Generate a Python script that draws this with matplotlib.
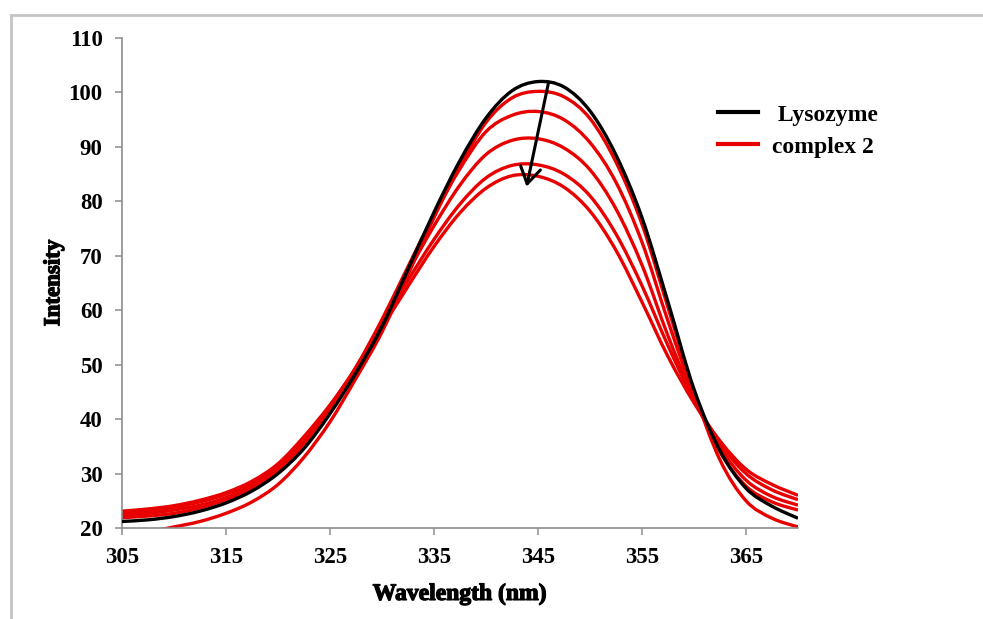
import matplotlib
matplotlib.use("Agg")
import matplotlib.pyplot as plt
from matplotlib.lines import Line2D
from matplotlib.path import Path
from matplotlib.patches import PathPatch
import matplotlib.patheffects as pe
import numpy as np

plt.rcParams['font.family'] = ['Liberation Serif', 'DejaVu Serif']

# emission spectra, sampled every 2.5 nm
wavelength = [305, 307.5, 310, 312.5, 315, 317.5, 320, 322.5, 325, 327.5,
              330, 332.5, 335, 337.5, 340, 342.5, 345, 347.5, 350, 352.5,
              355, 357.5, 360, 362.5, 365, 367.5, 370]

lysozyme = [21.2, 21.5, 22.1, 23.1, 24.6, 26.8, 30.0, 34.6, 41.0, 48.5,
            57.0, 67.5, 78.0, 87.5, 95.3, 100.3, 102.0, 101.0, 96.6, 88.5,
            77.0, 61.5, 45.5, 34.2, 27.3, 24.0, 21.8]

complex2_1 = [18.5, 19.3, 20.2, 21.2, 22.7, 24.8, 28.0, 33.0, 39.5, 47.5,
              56.0, 66.5, 77.0, 86.5, 94.5, 99.0, 100.2, 99.2, 95.2, 87.2,
              75.8, 60.5, 45.0, 32.5, 25.0, 21.8, 20.2]
complex2_2 = [21.9, 22.2, 22.7, 23.7, 25.2, 27.3, 30.6, 35.5, 42.0, 49.5,
              58.3, 68.0, 77.5, 86.0, 92.8, 95.8, 96.5, 95.0, 90.8, 83.5,
              72.5, 58.0, 44.5, 34.0, 27.7, 24.8, 23.3]
complex2_3 = [22.4, 22.7, 23.3, 24.2, 25.6, 27.8, 31.0, 36.0, 42.3, 49.5,
              58.0, 67.0, 75.5, 83.0, 88.6, 91.2, 91.5, 89.8, 85.8, 78.6,
              68.3, 55.3, 43.8, 34.8, 28.8, 25.8, 24.2]
complex2_4 = [22.8, 23.2, 23.8, 24.8, 26.2, 28.3, 31.5, 36.5, 42.5, 49.5,
              57.5, 65.5, 73.0, 79.5, 84.3, 86.6, 86.7, 85.0, 81.0, 74.0,
              64.5, 53.5, 43.5, 35.5, 30.0, 27.0, 25.2]
complex2_5 = [23.1, 23.5, 24.1, 25.1, 26.5, 28.6, 31.8, 36.8, 42.6, 49.3,
              56.8, 64.4, 71.7, 77.9, 82.4, 84.7, 84.6, 82.6, 78.2, 71.0,
              61.5, 51.5, 43.0, 36.0, 30.8, 28.0, 26.0]
complex2 = [complex2_1, complex2_2, complex2_3, complex2_4, complex2_5]

# arrow showing the quenching direction
arrow_start = (346.0, 101.7)
arrow_end = (343.9, 82.7)

red = '#e80000'
gray = '#8c8c8c'


def smooth_line(ax, xs, ys, **kw):
    # smoothed line through the points (Catmull-Rom segments as cubic Beziers)
    pts = np.column_stack([xs, ys]).astype(float)
    ext = np.vstack([pts[0], pts, pts[-1]])
    verts = [pts[0]]
    codes = [Path.MOVETO]
    for i in range(1, len(ext) - 2):
        p0, p1, p2, p3 = ext[i - 1], ext[i], ext[i + 1], ext[i + 2]
        verts += [p1 + (p2 - p0) / 6, p2 - (p3 - p1) / 6, p2]
        codes += [Path.CURVE4] * 3
    patch = PathPatch(Path(verts, codes), fill=False, capstyle='butt',
                      joinstyle='round', **kw)
    ax.add_patch(patch)
    return patch


fig = plt.figure(figsize=(9.83, 6.19), dpi=100)
ax = fig.add_axes([0.1241, 0.147, 0.6877, 0.7916])

for ys in complex2:
    smooth_line(ax, wavelength, ys, edgecolor=red, linewidth=2.4, zorder=2)
smooth_line(ax, wavelength, lysozyme, edgecolor='black', linewidth=2.4, zorder=3)

ax.annotate('', xy=arrow_end, xytext=arrow_start,
            arrowprops=dict(arrowstyle='->, head_length=0.45, head_width=0.28',
                            color='black', lw=2.2, mutation_scale=26,
                            shrinkA=0, shrinkB=0), zorder=4)

ax.set_xlim(305, 370)
ax.set_ylim(20, 110)
ax.set_xticks([305, 315, 325, 335, 345, 355, 365])
ax.set_yticks(np.arange(20, 111, 10))

for side in ['top', 'right']:
    ax.spines[side].set_visible(False)
for side in ['left', 'bottom']:
    ax.spines[side].set_color(gray)
    ax.spines[side].set_linewidth(1.2)
ax.tick_params(axis='both', direction='out', length=5, width=1.1, color=gray,
               pad=9, labelsize=16.5)
for lab in ax.get_yticklabels() + ax.get_xticklabels():
    lab.set_fontweight('bold')

thick = [pe.withStroke(linewidth=0.9, foreground='black')]
ax.set_xlabel('Wavelength (nm)', fontsize=17, fontweight='bold', labelpad=11,
              path_effects=thick)
ax.set_ylabel('Intensity', fontsize=16.5, fontweight='bold', labelpad=3,
              path_effects=thick)

handles = [Line2D([], [], color='black', linewidth=3),
           Line2D([], [], color=red, linewidth=3)]
fig.legend(handles, [' Lysozyme', 'complex 2'], loc='upper left',
           bbox_to_anchor=(0.730, 0.832), frameon=False,
           prop={'family': 'Liberation Serif', 'weight': 'bold', 'size': 17},
           handlelength=1.7, handletextpad=0.6, labelspacing=0.45,
           borderaxespad=0, borderpad=0)

# light gray frame around the chart area
fig.add_artist(Line2D([11 / 983, 1.0], [1 - 14.5 / 619, 1 - 14.5 / 619],
                      transform=fig.transFigure, color='#c4c4c4', linewidth=2))
fig.add_artist(Line2D([11 / 983, 11 / 983], [0.0, 1 - 14.5 / 619],
                      transform=fig.transFigure, color='#c4c4c4', linewidth=2))

fig.savefig('out.png', dpi=100)
